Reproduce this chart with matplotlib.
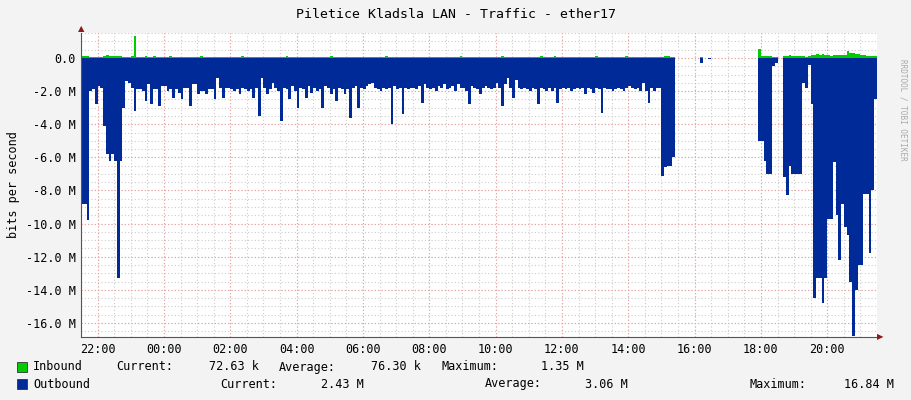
import numpy as np
import matplotlib
matplotlib.use("Agg")
import matplotlib.pyplot as plt

nan = np.nan

# 5-minute samples starting at 21:30, one row per hour, outbound in M (drawn negative)
outbound = [
    8.8, 8.8, 9.8, 2.0, 1.9, 2.8, 1.7, 1.8, 4.1, 5.8, 6.2, 5.8,
    6.2, 13.3, 6.2, 3.0, 1.4, 1.5, 1.8, 3.2, 1.9, 1.9, 2.0, 2.6,
    1.6, 2.8, 1.9, 1.9, 2.9, 1.7, 1.7, 2.0, 1.9, 2.4, 1.9, 2.1,
    2.5, 1.8, 1.8, 2.9, 1.6, 1.6, 2.2, 2.0, 2.0, 2.2, 1.9, 1.9,
    2.5, 1.2, 1.8, 2.4, 1.8, 1.8, 1.9, 2.0, 1.9, 2.2, 1.8, 1.9,
    2.0, 1.9, 2.4, 1.8, 3.5, 1.2, 1.8, 2.2, 1.9, 1.5, 1.8, 2.0,
    3.8, 1.8, 1.9, 2.5, 1.7, 2.0, 3.0, 1.8, 1.9, 2.4, 1.7, 2.1,
    1.8, 2.0, 1.9, 3.0, 1.7, 1.8, 2.2, 1.9, 2.6, 1.8, 1.9, 2.2,
    1.9, 3.6, 1.8, 1.7, 3.0, 1.8, 1.9, 1.7, 1.6, 1.5, 1.8, 1.9,
    2.0, 1.8, 1.9, 1.8, 4.0, 1.7, 1.9, 1.8, 3.4, 1.8, 1.9, 1.8,
    1.8, 1.9, 1.7, 2.7, 1.6, 1.8, 1.9, 1.8, 2.0, 1.7, 1.8, 1.6,
    1.9, 1.8, 1.7, 2.0, 1.6, 1.8, 1.8, 2.0, 2.8, 1.7, 1.8, 1.9,
    2.2, 1.8, 1.7, 1.8, 1.9, 1.8, 1.5, 1.8, 2.9, 1.6, 1.2, 1.8,
    2.4, 1.3, 1.8, 1.9, 1.8, 1.9, 2.0, 1.8, 1.9, 2.8, 1.8, 1.9,
    2.0, 1.8, 2.0, 1.8, 2.7, 1.9, 1.8, 1.9, 1.8, 2.0, 1.9, 1.8,
    1.9, 1.8, 2.2, 1.8, 1.9, 2.1, 1.8, 1.9, 3.3, 1.8, 1.9, 1.9,
    2.0, 1.9, 1.8, 1.9, 2.0, 1.8, 1.7, 1.8, 1.9, 1.8, 2.0, 1.5,
    2.0, 2.7, 1.8, 2.0, 1.8, 1.8, 7.1, 6.6, 6.5, 6.5, 6.0, 3.5,
    nan, nan, nan, nan, nan, nan, nan, nan, 0.3, 0.3, nan, 0.05,
    0.05, nan, nan, nan, nan, nan, nan, nan, nan, nan, nan, nan,
    nan, nan, nan, nan, nan, 5.0, 5.0, 6.2, 7.0, 7.0, 0.5, 0.3,
    0.3, nan, 7.2, 8.3, 6.5, 7.0, 7.0, 7.0, 7.0, 1.5, 1.8, 0.4,
    2.8, 14.5, 13.3, 13.3, 14.8, 13.3, 9.7, 9.7, 6.3, 9.5, 12.2, 8.8,
    10.2, 10.7, 13.5, 16.8, 14.0, 12.5, 12.5, 8.2, 8.2, 11.8, 8.0, 2.5,
]

inbound = [
    0.15, 0.15, 0.1, 0.05, 0.05, 0.05, 0.05, 0.05, 0.1, 0.2, 0.15, 0.15,
    0.15, 0.1, 0.1, 0.05, 0.05, 0.05, 0.1, 1.35, 0.05, 0.05, 0.05, 0.1,
    0.06, 0.06, 0.12, 0.06, 0.06, 0.06, 0.06, 0.06, 0.12, 0.06, 0.06, 0.06,
    0.06, 0.06, 0.06, 0.06, 0.06, 0.06, 0.06, 0.12, 0.06, 0.06, 0.06, 0.06,
    0.06, 0.06, 0.06, 0.06, 0.06, 0.06, 0.06, 0.06, 0.06, 0.06, 0.12, 0.06,
    0.06, 0.06, 0.06, 0.06, 0.06, 0.06, 0.06, 0.06, 0.06, 0.06, 0.06, 0.06,
    0.06, 0.06, 0.12, 0.06, 0.06, 0.06, 0.06, 0.06, 0.06, 0.06, 0.06, 0.06,
    0.06, 0.06, 0.06, 0.06, 0.06, 0.06, 0.12, 0.06, 0.06, 0.06, 0.06, 0.06,
    0.06, 0.06, 0.06, 0.06, 0.06, 0.06, 0.06, 0.06, 0.06, 0.06, 0.06, 0.06,
    0.06, 0.06, 0.12, 0.06, 0.06, 0.06, 0.06, 0.06, 0.06, 0.06, 0.06, 0.06,
    0.06, 0.06, 0.06, 0.06, 0.06, 0.06, 0.06, 0.06, 0.06, 0.06, 0.06, 0.06,
    0.06, 0.06, 0.06, 0.06, 0.06, 0.12, 0.06, 0.06, 0.06, 0.06, 0.06, 0.06,
    0.06, 0.06, 0.06, 0.06, 0.06, 0.06, 0.06, 0.06, 0.12, 0.06, 0.06, 0.06,
    0.06, 0.06, 0.06, 0.06, 0.06, 0.06, 0.06, 0.06, 0.06, 0.06, 0.12, 0.06,
    0.06, 0.06, 0.06, 0.12, 0.06, 0.06, 0.06, 0.06, 0.06, 0.06, 0.06, 0.06,
    0.06, 0.06, 0.06, 0.06, 0.06, 0.06, 0.12, 0.06, 0.06, 0.06, 0.06, 0.06,
    0.06, 0.06, 0.06, 0.06, 0.06, 0.12, 0.06, 0.06, 0.06, 0.06, 0.06, 0.06,
    0.06, 0.06, 0.06, 0.06, 0.06, 0.06, 0.06, 0.12, 0.12, 0.08, 0.06, 0.06,
    nan, nan, nan, nan, nan, nan, nan, nan, 0.05, 0.05, nan, 0.03,
    0.03, nan, nan, nan, nan, nan, nan, nan, nan, nan, nan, nan,
    nan, nan, nan, nan, nan, 0.55, 0.15, 0.15, 0.15, 0.1, 0.06, 0.06,
    0.06, nan, 0.15, 0.15, 0.2, 0.15, 0.15, 0.1, 0.12, 0.1, 0.08, 0.15,
    0.2, 0.2, 0.25, 0.2, 0.25, 0.2, 0.2, 0.15, 0.2, 0.2, 0.2, 0.2,
    0.2, 0.45, 0.3, 0.3, 0.25, 0.25, 0.2, 0.2, 0.15, 0.15, 0.1, 0.1,
]

tick_labels = ["22:00", "00:00", "02:00", "04:00", "06:00", "08:00",
               "10:00", "12:00", "14:00", "16:00", "18:00", "20:00"]
ytick_vals = [0, -2, -4, -6, -8, -10, -12, -14, -16]

MONO = "DejaVu Sans Mono"
W, H = 911, 400
plt.rcParams["font.family"] = MONO

fig = plt.figure(figsize=(W / 100, H / 100), dpi=100, facecolor="#f3f3f3")
ax = fig.add_axes([81 / W, 1 - 337 / H, (877 - 81) / W, (337 - 33) / H])
ax.set_facecolor("white")

t = np.arange(len(outbound) + 1) / 12.0
out = -np.array(outbound + [outbound[-1]])
inb = np.array(inbound + [inbound[-1]])
ax.fill_between(t, 0, out, step="post", color="#002a97", linewidth=0, zorder=3)
ax.fill_between(t, 0, inb, step="post", color="#00cc00", linewidth=0, zorder=3)

ax.set_xlim(0, 24)
ax.set_ylim(-16.85, 1.51)

# grid: minor gray every 30 min / 0.5 M, major red every 2 h / 2 M
for x in np.arange(0, 24.01, 0.5):
    ax.axvline(x, color="#cccccc", lw=0.8, ls=(0, (1, 2)), zorder=1)
for y in np.arange(-16.5, 1.6, 0.5):
    ax.axhline(y, color="#cccccc", lw=0.8, ls=(0, (1, 2)), zorder=1)
major_x = [0.5 + 2 * k for k in range(len(tick_labels))]
for x in major_x:
    ax.axvline(x, color="#f0a0a0", lw=0.8, ls=(0, (1, 2)), zorder=2)
for y in ytick_vals:
    ax.axhline(y, color="#f0a0a0", lw=0.8, ls=(0, (1, 2)), zorder=2)

ax.set_xticks(major_x)
ax.set_xticklabels(tick_labels)
ax.set_yticks(ytick_vals)
ax.set_yticklabels(["0.0"] + [f"{v:.1f} M" for v in ytick_vals[1:]])
ax.tick_params(length=0, labelsize=8.5, colors="#000000", pad=4)
for s in ["top", "right"]:
    ax.spines[s].set_visible(False)
ax.spines["left"].set_color("#555555")
ax.spines["bottom"].set_color("#555555")
ax.spines["left"].set_zorder(5)
ax.spines["bottom"].set_zorder(5)
ax.set_ylabel("bits per second", fontsize=8.5, labelpad=4)

# arrows at axis ends
fig.text(877 / W, 1 - 337 / H, "▶", color="#8b1a1a", fontsize=6, ha="left", va="center",
         family=["DejaVu Sans"])
fig.text(81 / W, 1 - 33 / H, "▲", color="#8b1a1a", fontsize=6, ha="center", va="bottom",
         family=["DejaVu Sans"])

fig.text(0.5, 1 - 14 / H, "Piletice Kladsla LAN - Traffic - ether17", ha="center", va="center",
         fontsize=9.5)
fig.text(903 / W, 1 - 110 / H, "RRDTOOL / TOBI OETIKER", rotation=270, ha="center", va="center",
         fontsize=5.5, color="#aaaaaa")


def px(x, y, s, ha="left"):
    fig.text(x / W, 1 - y / H, s, ha=ha, va="center", fontsize=8.5)


for y, c in [(367, "#00cc00"), (384, "#002a97")]:
    fig.patches.append(plt.Rectangle((17 / W, 1 - (y + 5) / H), 10 / W, 10 / H,
                                     transform=fig.transFigure, facecolor=c,
                                     edgecolor="#333333", lw=0.6))

px(33, 367, "Inbound")
px(116, 367, "Current:")
px(259, 367, "72.63 k", "right")
px(279, 367, "Average:")
px(421, 367, "76.30 k", "right")
px(441, 367, "Maximum:")
px(584, 367, "1.35 M", "right")
px(33, 384, "Outbound")
px(220, 384, "Current:")
px(364, 384, "2.43 M", "right")
px(485, 384, "Average:")
px(628, 384, "3.06 M", "right")
px(750, 384, "Maximum:")
px(894, 384, "16.84 M", "right")

fig.savefig("out.png", dpi=100, facecolor=fig.get_facecolor())
